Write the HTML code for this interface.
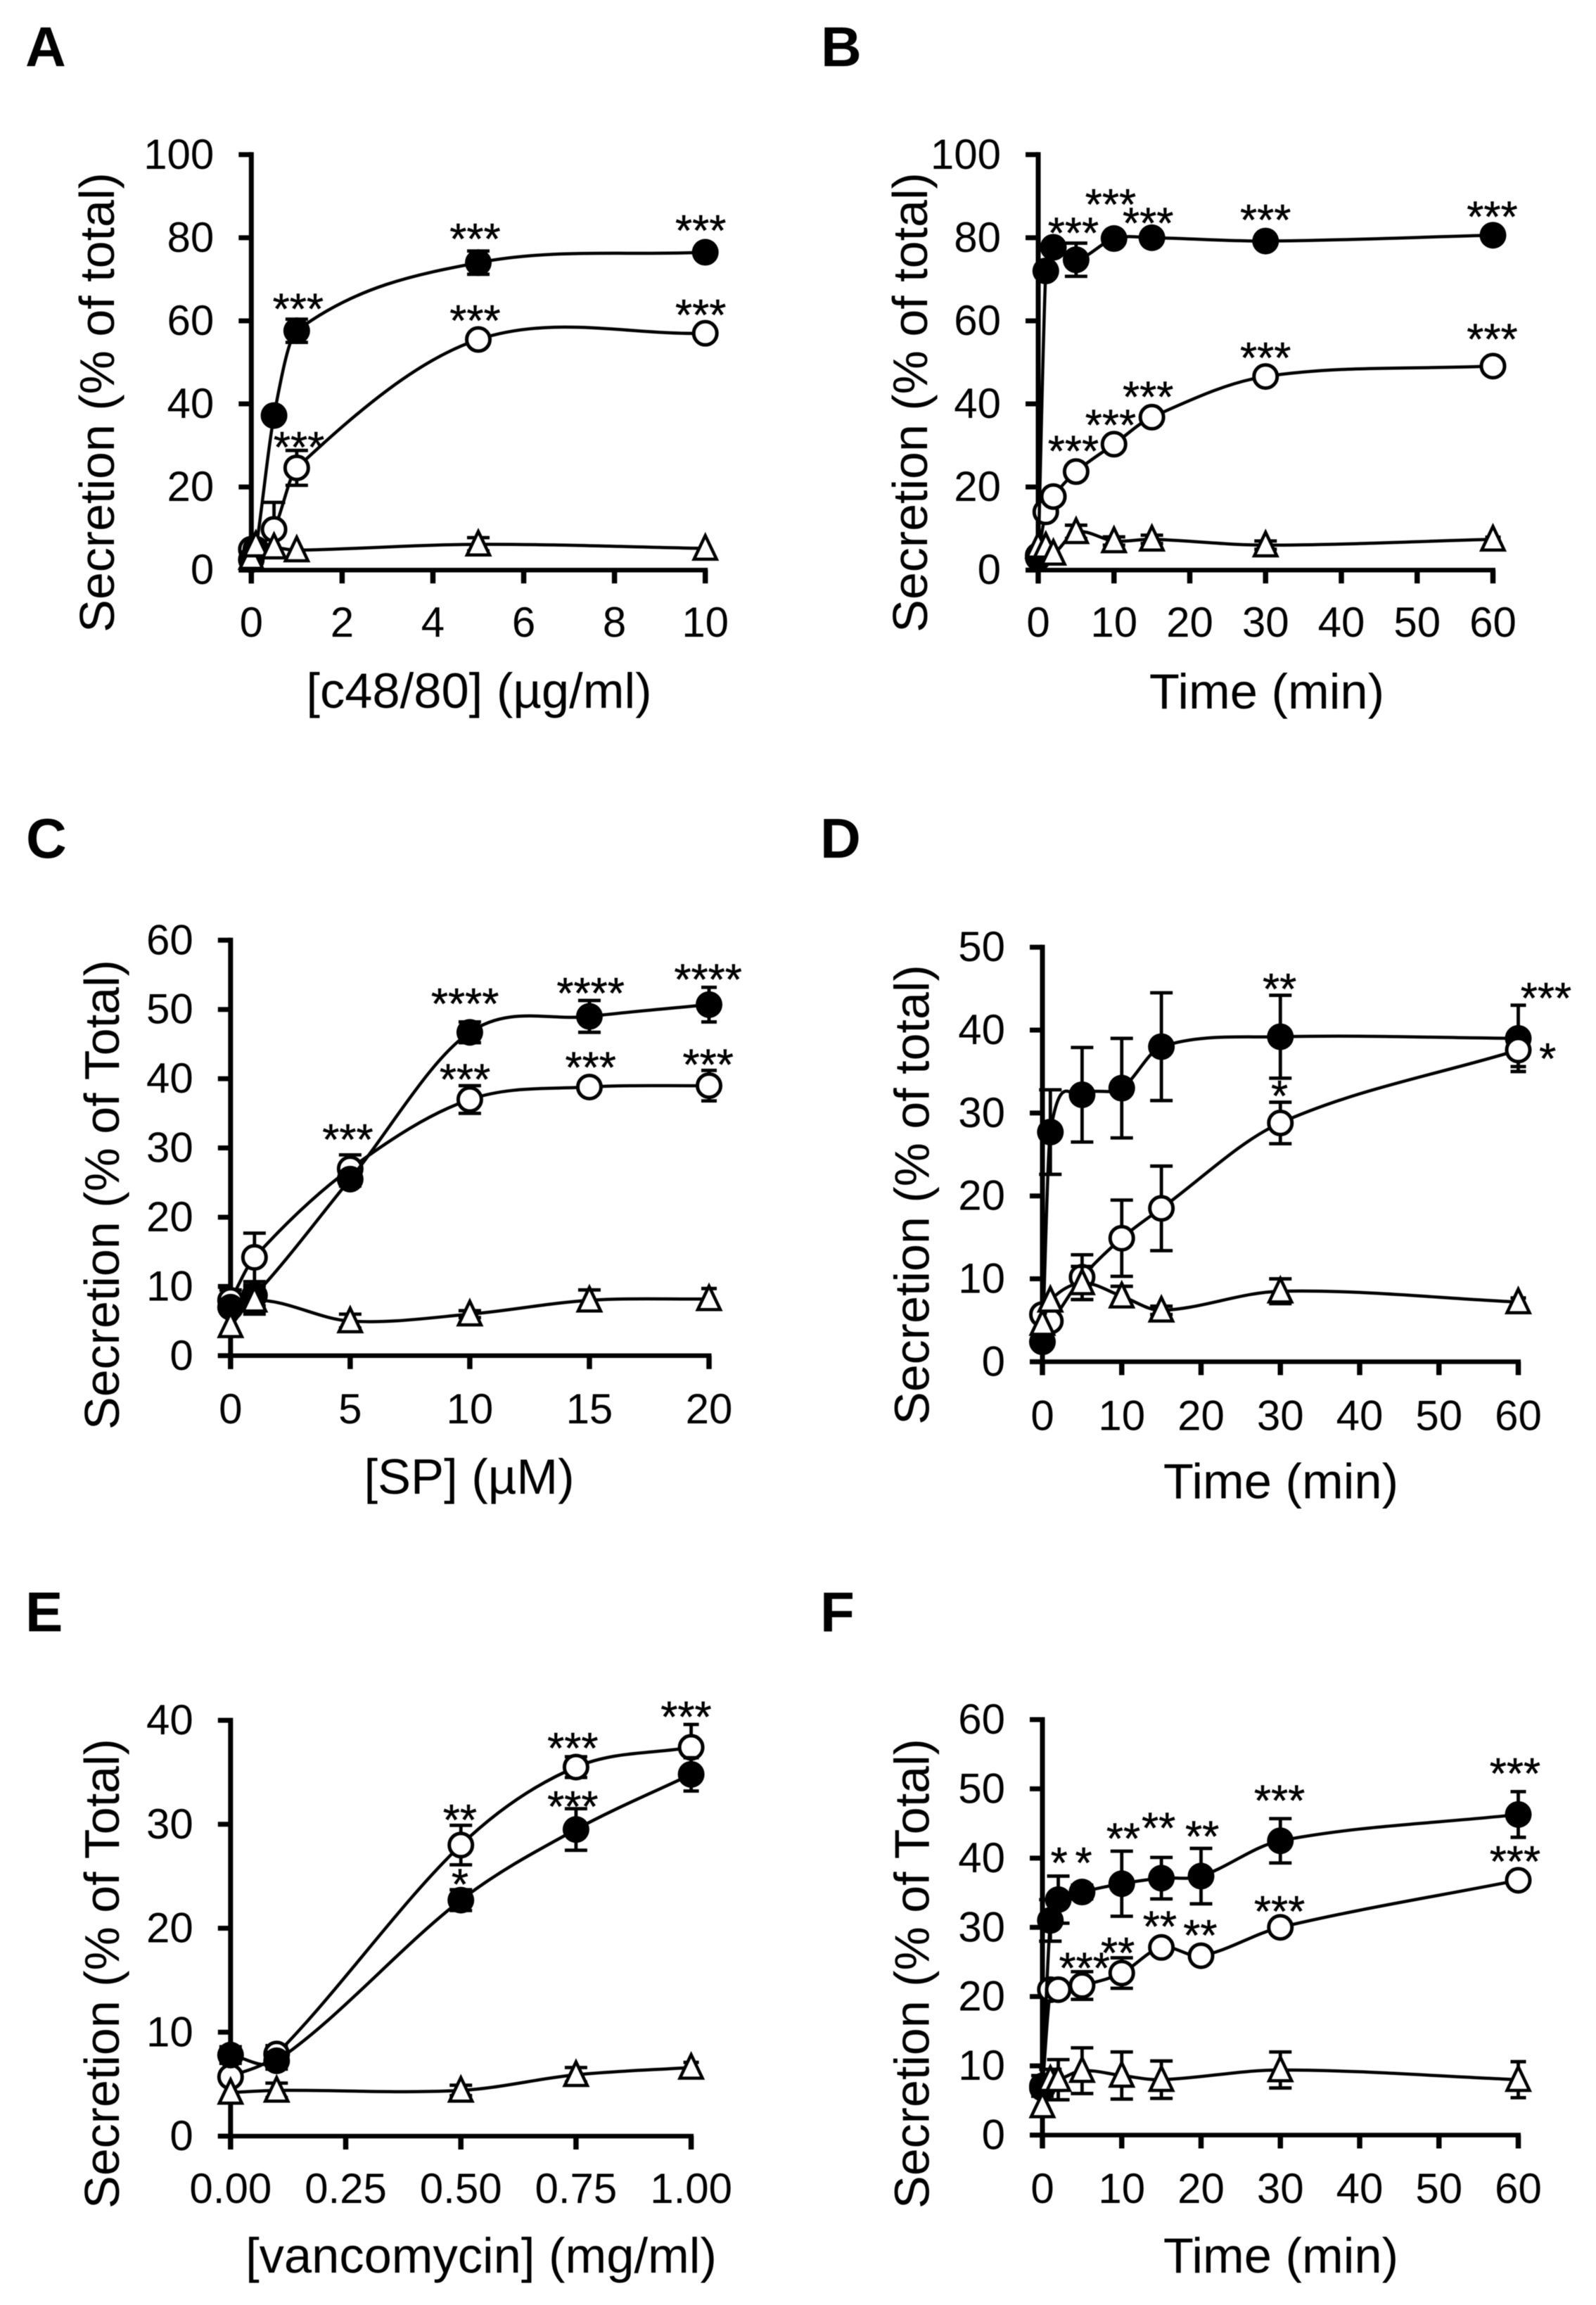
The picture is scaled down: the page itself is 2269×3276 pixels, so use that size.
<!DOCTYPE html>
<html lang="en">
<head>
<meta charset="utf-8">
<title>Secretion panels A-F</title>
<style>
  html, body { margin: 0; padding: 0; background: #fff; }
  #figure { display: block; filter: blur(0.6px); }
  text { font-family: "Liberation Sans", sans-serif; fill: #000; }
</style>
</head>
<body>
<svg id="figure" xmlns="http://www.w3.org/2000/svg" width="2269" height="3276" viewBox="0 0 2269 3276"></svg>
<script>
// ---- Panel A data ----
const aX = [0, 0.1, 0.5, 1, 5, 10];
const aBlack = [2.5, 5, 37.2, 57.6, 74, 76.5];
const aBlackErr = [0, 0, 0, 2.8, 2.8, 0];
const aWhite = [5, 5, 9.8, 24.6, 55.5, 57];
const aWhiteErr = [0, 0, 6.5, 4.2, 0, 0];
const aTri = [3, 6, 5.5, 4.8, 6.2, 5.2];
const aTriErr = [0, 0, 0, 0, 1.6, 0];
const aStarX = [1.03, 4.93, 9.9, 4.93, 9.9, 1.05];
const aStarY = [64.3, 81.2, 83.2, 61.5, 62.9, 31];
const aStarText = ['***', '***', '***', '***', '***', '***'];
const aXTicks = [0, 2, 4, 6, 8, 10];
const aXTickLabels = ['0', '2', '4', '6', '8', '10'];
const aYTicks = [0, 20, 40, 60, 80, 100];

// ---- Panel B data ----
const bX = [0, 1, 2, 5, 10, 15, 30, 60];
const bBlack = [3, 72, 77.7, 74.7, 79.8, 80, 79.2, 80.6];
const bBlackErr = [0, 0, 0, 4, 0, 0, 0, 0];
const bWhite = [3.5, 14, 17.7, 23.7, 30.3, 36.8, 46.6, 49.1];
const bWhiteErr = [0, 0, 0, 0, 0, 0, 0, 0];
const bTri = [5.7, 5.7, 4, 9.2, 7, 7.4, 6, 7.4];
const bTriErr = [0, 0, 0, 1.6, 1, 1, 1, 0.5];
const bStarX = [4.64, 9.55, 14.5, 30, 59.9, 4.64, 9.55, 14.5, 30, 59.9];
const bStarY = [82.6, 89.5, 85, 85.7, 86.5, 30.1, 36.4, 43.1, 52.5, 57];
const bStarText = ['***', '***', '***', '***', '***', '***', '***', '***', '***', '***'];
const bXTicks = [0, 10, 20, 30, 40, 50, 60];
const bXTickLabels = ['0', '10', '20', '30', '40', '50', '60'];
const bYTicks = [0, 20, 40, 60, 80, 100];

// ---- Panel C data ----
const cX = [0, 1, 5, 10, 15, 20];
const cBlack = [7, 8.7, 25.5, 46.7, 49, 50.7];
const cBlackErr = [0, 1.5, 1, 1.5, 2.3, 2.5];
const cWhite = [8, 14.2, 27, 37, 38.8, 39];
const cWhiteErr = [1.5, 3.5, 2, 2, 0.5, 2.2];
const cTri = [4.3, 8, 5, 6, 8, 8.2];
const cTriErr = [0, 2, 1, 0.5, 1.5, 1.5];
const cStarX = [9.8, 15.05, 19.96, 4.9, 9.8, 15.05, 19.96];
const cStarY = [51.7, 53.2, 55.2, 32.1, 40.8, 42.5, 42.9];
const cStarText = ['****', '****', '****', '***', '***', '***', '***'];
const cXTicks = [0, 5, 10, 15, 20];
const cXTickLabels = ['0', '5', '10', '15', '20'];
const cYTicks = [0, 10, 20, 30, 40, 50, 60];

// ---- Panel D data ----
const dX = [0, 1, 5, 10, 15, 30, 60];
const dBlack = [2.4, 27.7, 32.2, 33, 38, 39.2, 39];
const dBlackErr = [0.6, 5.1, 5.7, 6, 6.5, 5, 4];
const dWhite = [5.7, 4.9, 10.2, 14.9, 18.5, 28.8, 37.6];
const dWhiteErr = [0, 0, 2.7, 4.6, 5.1, 2.5, 2];
const dTri = [4.6, 7.4, 9.5, 7.9, 6.2, 8.5, 7.2];
const dTriErr = [0, 0, 2, 1.2, 0.5, 1.5, 0.5];
const dStarX = [29.9, 63.5, 29.9, 63.7];
const dStarY = [45.7, 44.6, 32.8, 37.3];
const dStarText = ['**', '***', '*', '*'];
const dXTicks = [0, 10, 20, 30, 40, 50, 60];
const dXTickLabels = ['0', '10', '20', '30', '40', '50', '60'];
const dYTicks = [0, 10, 20, 30, 40, 50];

// ---- Panel E data ----
const eX = [0, 0.1, 0.5, 0.75, 1];
const eBlack = [7.8, 7.25, 22.7, 29.5, 34.8];
const eBlackErr = [0.8, 0.8, 1, 2, 1.6];
const eWhite = [5.7, 7.9, 28, 35.5, 37.4];
const eWhiteErr = [0, 0.8, 1.9, 1, 2.2];
const eTri = [4.2, 4.4, 4.4, 5.9, 6.6];
const eTriErr = [0, 0.7, 0.5, 0.7, 0.5];
const eStarX = [0.989, 0.743, 0.743, 0.498, 0.498];
const eStarY = [40.9, 37.9, 32.3, 31, 24.8];
const eStarText = ['***', '***', '***', '**', '*'];
const eXTicks = [0, 0.25, 0.5, 0.75, 1];
const eXTickLabels = ['0.00', '0.25', '0.50', '0.75', '1.00'];
const eYTicks = [0, 10, 20, 30, 40];

// ---- Panel F data ----
const fX = [0, 1, 2, 5, 10, 15, 20, 30, 60];
const fBlack = [7.1, 31, 34, 35.1, 36.3, 37.1, 37.4, 42.5, 46.3];
const fBlackErr = [1.5, 3, 3.4, 1, 4.7, 3, 4, 3.2, 3.3];
const fWhite = [6.8, 21, 21, 21.6, 23.4, 27.1, 25.9, 30, 36.8];
const fWhiteErr = [0, 0, 0, 2, 2.2, 0, 0, 0, 0];
const fTri = [4.2, 8, 8, 9.3, 8.6, 8, null, 9.4, 8];
const fTriErr = [0, 1.5, 2.9, 3.3, 3.4, 2.7, 0, 2.6, 2.6];
const fStarX = [2.1, 5.2, 10.2, 14.65, 20.15, 29.9, 59.6, 59.6, 5.3, 9.5, 14.8, 19.9, 29.9];
const fStarY = [40.2, 40.2, 43.7, 45.2, 44, 49.2, 53.1, 40.4, 25, 27.2, 31, 29.7, 33.2];
const fStarText = ['*', '*', '**', '**', '**', '***', '***', '***', '***', '**', '**', '**', '***'];
const fXTicks = [0, 10, 20, 30, 40, 50, 60];
const fXTickLabels = ['0', '10', '20', '30', '40', '50', '60'];
const fYTicks = [0, 10, 20, 30, 40, 50, 60];

// ---- Panel layout (pixels) ----
const panels = [
  { id: 'a', letter: 'A', letterX: 36, letterY: 94, left: 357.3, right: 1002.7, bottom: 810.2, top: 219.8, xMax: 10, yMax: 100,
    xs: aX, black: aBlack, blackErr: aBlackErr, white: aWhite, whiteErr: aWhiteErr, tri: aTri, triErr: aTriErr,
    starX: aStarX, starY: aStarY, starText: aStarText, xTicks: aXTicks, xTickLabels: aXTickLabels, yTicks: aYTicks,
    xTitle: '[c48/80] (µg/ml)', yTitle: 'Secretion (% of total)', titleX: 681, titleY: 1006, labelDy: 95, yTitleX: 162, yTitleY: 572, whiteOnTop: false },
  { id: 'b', letter: 'B', letterX: 1167, letterY: 94, left: 1476, right: 2122.5, bottom: 810.2, top: 219.8, xMax: 60, yMax: 100,
    xs: bX, black: bBlack, blackErr: bBlackErr, white: bWhite, whiteErr: bWhiteErr, tri: bTri, triErr: bTriErr,
    starX: bStarX, starY: bStarY, starText: bStarText, xTicks: bXTicks, xTickLabels: bXTickLabels, yTicks: bYTicks,
    xTitle: 'Time (min)', yTitle: 'Secretion (% of total)', titleX: 1801, titleY: 1007, labelDy: 95, yTitleX: 1318, yTitleY: 572, whiteOnTop: false },
  { id: 'c', letter: 'C', letterX: 37, letterY: 1219, left: 327.8, right: 1008, bottom: 1926.8, top: 1336.3, xMax: 20, yMax: 60,
    xs: cX, black: cBlack, blackErr: cBlackErr, white: cWhite, whiteErr: cWhiteErr, tri: cTri, triErr: cTriErr,
    starX: cStarX, starY: cStarY, starText: cStarText, xTicks: cXTicks, xTickLabels: cXTickLabels, yTicks: cYTicks,
    xTitle: '[SP] (µM)', yTitle: 'Secretion (% of Total)', titleX: 667, titleY: 2123, labelDy: 96, yTitleX: 169, yTitleY: 1698, whiteOnTop: false },
  { id: 'd', letter: 'D', letterX: 1166, letterY: 1219, left: 1482, right: 2158.5, bottom: 1935.4, top: 1346.2, xMax: 60, yMax: 50,
    xs: dX, black: dBlack, blackErr: dBlackErr, white: dWhite, whiteErr: dWhiteErr, tri: dTri, triErr: dTriErr,
    starX: dStarX, starY: dStarY, starText: dStarText, xTicks: dXTicks, xTickLabels: dXTickLabels, yTicks: dYTicks,
    xTitle: 'Time (min)', yTitle: 'Secretion (% of total)', titleX: 1821, titleY: 2129.5, labelDy: 97, yTitleX: 1320.6, yTitleY: 1698, whiteOnTop: true },
  { id: 'e', letter: 'E', letterX: 36, letterY: 2318.6, left: 327.8, right: 982.6, bottom: 3036, top: 2445, xMax: 1, yMax: 40,
    xs: eX, black: eBlack, blackErr: eBlackErr, white: eWhite, whiteErr: eWhiteErr, tri: eTri, triErr: eTriErr,
    starX: eStarX, starY: eStarY, starText: eStarText, xTicks: eXTicks, xTickLabels: eXTickLabels, yTicks: eYTicks,
    xTitle: '[vancomycin] (mg/ml)', yTitle: 'Secretion (% of Total)', titleX: 684, titleY: 3230, labelDy: 95, yTitleX: 169, yTitleY: 2805, whiteOnTop: false },
  { id: 'f', letter: 'F', letterX: 1166, letterY: 2318.6, left: 1482, right: 2158.5, bottom: 3034.5, top: 2444, xMax: 60, yMax: 60,
    xs: fX, black: fBlack, blackErr: fBlackErr, white: fWhite, whiteErr: fWhiteErr, tri: fTri, triErr: fTriErr,
    starX: fStarX, starY: fStarY, starText: fStarText, xTicks: fXTicks, xTickLabels: fXTickLabels, yTicks: fYTicks,
    xTitle: 'Time (min)', yTitle: 'Secretion (% of Total)', titleX: 1821, titleY: 3230, labelDy: 96.5, yTitleX: 1320.6, yTitleY: 2805, whiteOnTop: false }
];

const NS = 'http://www.w3.org/2000/svg';
const root = document.getElementById('figure');

function make(parent, tag, attrs, content) {
  const node = document.createElementNS(NS, tag);
  for (const key in attrs) node.setAttribute(key, attrs[key]);
  if (content !== undefined) node.textContent = content;
  parent.appendChild(node);
  return node;
}

function splinePath(pts) {
  const n = pts.length;
  const slope = pts.map((p, i) => {
    const a = pts[Math.max(0, i - 1)];
    const b = pts[Math.min(n - 1, i + 1)];
    const dx = b[0] - a[0];
    return dx === 0 ? 0 : (b[1] - a[1]) / dx;
  });
  let d = 'M' + pts[0][0].toFixed(1) + ' ' + pts[0][1].toFixed(1);
  for (let i = 0; i < n - 1; i++) {
    const h = (pts[i + 1][0] - pts[i][0]) / 3;
    d += ' C' + (pts[i][0] + h).toFixed(1) + ' ' + (pts[i][1] + slope[i] * h).toFixed(1) +
         ' ' + (pts[i + 1][0] - h).toFixed(1) + ' ' + (pts[i + 1][1] - slope[i + 1] * h).toFixed(1) +
         ' ' + pts[i + 1][0].toFixed(1) + ' ' + pts[i + 1][1].toFixed(1);
  }
  return d;
}

function drawSeries(group, kind, xs, ys, errs, xScale, yScale) {
  const pts = [];
  xs.forEach((x, i) => { if (ys[i] !== null) pts.push([xScale(x), yScale(ys[i])]); });
  const line = make(group, 'path', { d: splinePath(pts), fill: 'none', stroke: '#000', 'stroke-width': 4.5 });
  
  

  xs.forEach((x, i) => {
    if (ys[i] === null || !(errs[i] > 0)) return;
    const px = xScale(x);
    const hi = yScale(ys[i] + errs[i]);
    const lo = yScale(ys[i] - errs[i]);
    const cap = i === xs.length - 1 ? 11 : 16;
    const bar = make(group, 'path', {
      d: 'M' + px + ' ' + hi + 'V' + lo + 'M' + (px - cap) + ' ' + hi + 'H' + (px + cap) + 'M' + (px - cap) + ' ' + lo + 'H' + (px + cap),
      fill: 'none', stroke: '#000', 'stroke-width': 4.8
    });
    
    
  });

  xs.forEach((x, i) => {
    if (ys[i] === null) return;
    const px = xScale(x);
    const py = yScale(ys[i]);
    let mark;
    if (kind === 'black') {
      mark = make(group, 'circle', { cx: px, cy: py, r: 19, fill: '#000' });
    } else if (kind === 'white') {
      mark = make(group, 'circle', { cx: px, cy: py, r: 16.5, fill: '#fff', stroke: '#000', 'stroke-width': 5 });
    } else {
      mark = make(group, 'path', { d: 'M' + px + ' ' + (py - 18.3) + 'L' + (px + 16) + ' ' + (py + 15.2) + 'H' + (px - 16) + 'Z', fill: '#fff', stroke: '#000', 'stroke-width': 4.5 });
    }
    
    
  });
}

panels.forEach(function (p) {
  const xScale = v => p.left + (v / p.xMax) * (p.right - p.left);
  const yScale = v => p.bottom - (v / p.yMax) * (p.bottom - p.top);

  const group = make(root, 'g', {});
  
  

  const letter = make(group, 'text', { x: p.letterX, y: p.letterY, 'font-size': 80, 'font-weight': 'bold' }, p.letter);
  
  

  const yAxis = make(group, 'line', { x1: p.left, x2: p.left, y1: p.top - 3.5, y2: p.bottom + 19, stroke: '#000', 'stroke-width': 7 });
  
  

  const xAxis = make(group, 'line', { x1: p.left - 18, x2: p.right + 3.5, y1: p.bottom, y2: p.bottom, stroke: '#000', 'stroke-width': 6.5 });
  
  

  p.yTicks.forEach(function (v) {
    const py = yScale(v);
    const tick = make(group, 'line', { x1: p.left - 18, x2: p.left, y1: py, y2: py, stroke: '#000', 'stroke-width': 7 });
    
    
    const label = make(group, 'text', { x: p.left - 53, y: py + 20, 'font-size': 60, 'text-anchor': 'end' }, String(v));
    
    
  });

  p.xTicks.forEach(function (v, i) {
    const px = xScale(v);
    const tick = make(group, 'line', { x1: px, x2: px, y1: p.bottom, y2: p.bottom + 19, stroke: '#000', 'stroke-width': 7.5 });
    
    
    const label = make(group, 'text', { x: px, y: p.bottom + p.labelDy, 'font-size': 60, 'text-anchor': 'middle' }, p.xTickLabels[i]);
    
    
  });

  const xTitle = make(group, 'text', { x: p.titleX, y: p.titleY, 'font-size': 70.5, 'text-anchor': 'middle' }, p.xTitle);
  
  

  const yTitle = make(group, 'text', { x: p.yTitleX, y: p.yTitleY, 'font-size': 70, 'text-anchor': 'middle', transform: 'rotate(-90 ' + p.yTitleX + ' ' + p.yTitleY + ')' }, p.yTitle);
  
  

  if (p.whiteOnTop) {
    drawSeries(group, 'black', p.xs, p.black, p.blackErr, xScale, yScale);
    drawSeries(group, 'white', p.xs, p.white, p.whiteErr, xScale, yScale);
  } else {
    drawSeries(group, 'white', p.xs, p.white, p.whiteErr, xScale, yScale);
    drawSeries(group, 'black', p.xs, p.black, p.blackErr, xScale, yScale);
  }
  drawSeries(group, 'triangle', p.xs, p.tri, p.triErr, xScale, yScale);

  p.starText.forEach(function (t, i) {
    const star = make(group, 'text', { x: xScale(p.starX[i]), y: yScale(p.starY[i]) + 30, 'font-size': 62, 'text-anchor': 'middle', stroke: '#000', 'stroke-width': 0.5 }, t);
    
    
  });
});
</script>
</body>
</html>
